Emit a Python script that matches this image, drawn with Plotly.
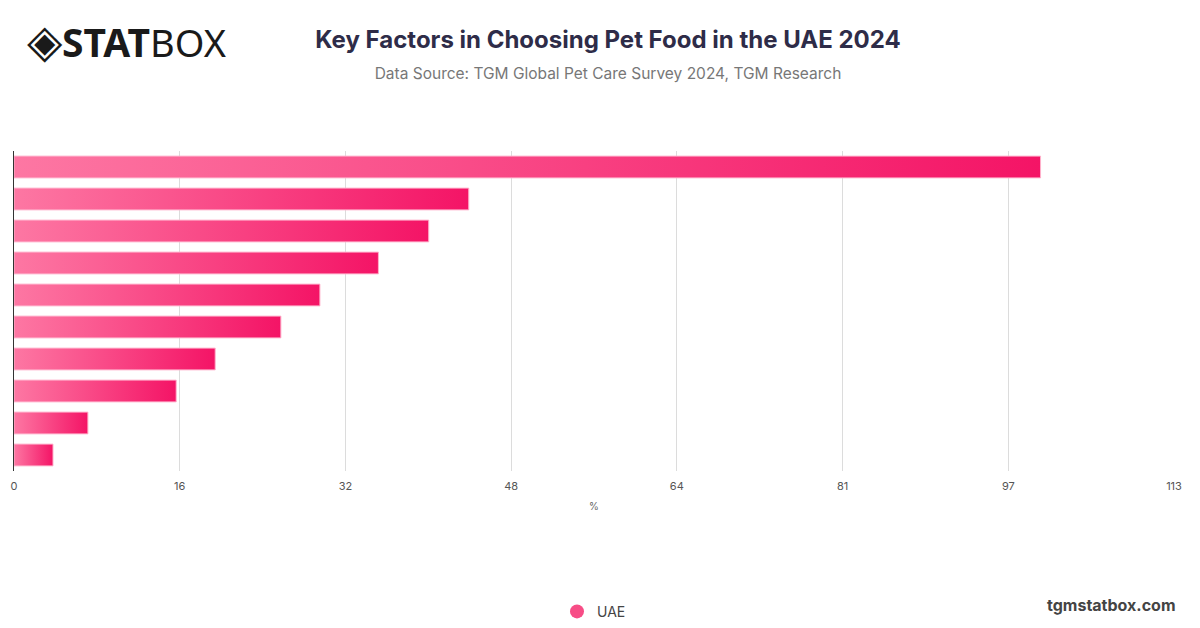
import plotly.graph_objects as go

# data
factors = ["Factor 1", "Factor 2", "Factor 3", "Factor 4", "Factor 5",
           "Factor 6", "Factor 7", "Factor 8", "Factor 9", "Factor 10"]
uae = [100, 44.3, 40.4, 35.5, 29.8, 26.0, 19.6, 15.8, 7.2, 3.8]
tick_vals = [0, 16.14, 32.29, 48.43, 64.57, 80.71, 96.86, 113]
tick_text = ["0", "16", "32", "48", "64", "81", "97", "113"]

half = 0.34
fig = go.Figure()

# each bar is a filled polygon so it can carry a left-to-right gradient
for i, v in enumerate(uae):
    fig.add_trace(go.Scatter(
        x=[0, v, v, 0, 0],
        y=[i - half, i - half, i + half, i + half, i - half],
        mode="lines",
        fill="toself",
        fillgradient=dict(type="horizontal",
                          colorscale=[[0, "#fd77a3"], [1, "#f41466"]]),
        line=dict(color="#ffb3cc", width=1),
        hoverinfo="text",
        text=f"{factors[i]}: {v}%",
        showlegend=False,
    ))

# legend entry
fig.add_trace(go.Scatter(
    x=[None], y=[None], mode="markers", name="UAE",
    marker=dict(symbol="circle", size=14, color="#f74d86"),
))

# page body adds 8px, margins account for it
fig.update_layout(
    width=1200, height=628,
    paper_bgcolor="white", plot_bgcolor="white",
    margin=dict(l=6, r=34, t=143, b=165, autoexpand=False),
    font=dict(family="Inter, Noto Sans, sans-serif", color="#555"),
    title=dict(
        text="<b>Key Factors in Choosing Pet Food in the UAE 2024</b>"
             "<br><span style='font-size:15.5px;color:#777'>Data Source: TGM Global Pet Care Survey 2024, TGM Research</span>",
        x=0.5, xanchor="center", y=0.937, yanchor="top",
        font=dict(size=24, color="#2e2c48"),
    ),
    xaxis=dict(
        range=[0, 113], tickvals=tick_vals, ticktext=tick_text,
        showgrid=True, gridcolor="#dcdcdc", gridwidth=1,
        zeroline=False, showline=False, ticks="",
        ticklabelstandoff=7,
        tickfont=dict(size=11, color="#555"),
        title=dict(text="%", font=dict(size=10, color="#666"), standoff=10),
        fixedrange=True,
    ),
    yaxis=dict(
        range=[9.5, -0.5], showticklabels=False, showgrid=False,
        zeroline=False, showline=True, linecolor="#333", linewidth=1,
        fixedrange=True,
    ),
    legend=dict(orientation="h", x=0.5, xanchor="center", y=-0.44, yanchor="middle",
                font=dict(size=14, color="#444")),
)

# logo and site text
fig.add_annotation(
    text="<span style='font-size:46px'>◈</span><b style='font-size:39px'>STAT</b><span style='font-size:38px'>BOX</span>",
    xref="paper", yref="paper", x=0, xanchor="left", y=1.35, yanchor="middle",
    xshift=11, showarrow=False, font=dict(family="Noto Sans, sans-serif", color="#1a1a1a"),
)
fig.add_annotation(
    text="<b>tgmstatbox.com</b>",
    xref="paper", yref="paper", x=1, xanchor="right", y=-0.42, yanchor="middle",
    xshift=4, showarrow=False, font=dict(size=16, color="#444"),
)

fig.write_html("out.html")
